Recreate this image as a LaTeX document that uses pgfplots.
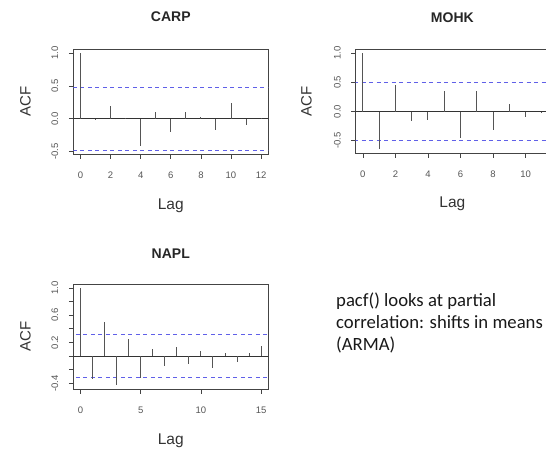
\documentclass[border=0pt]{standalone}
\usepackage{fontspec}
\setmainfont{Liberation Sans}
\newfontfamily\slidefont{Carlito}
\usepackage{pgfplots}
\pgfplotsset{compat=1.18}

\definecolor{boxgray}{HTML}{444444}
\definecolor{spikegray}{HTML}{555555}
\definecolor{ticktext}{HTML}{555555}
\definecolor{cliblue}{HTML}{6060E8}

\pgfplotsset{
  acf/.style={
    scale only axis,
    width=195pt, height=104.7pt,
    axis line style={boxgray, line width=0.8pt},
    tick pos=left, tick align=outside,
    major tick length=4.5pt,
    every tick/.style={boxgray, line width=0.7pt},
    ticklabel style={font=\fontsize{9.5}{10}\selectfont, text=ticktext},
    xticklabel style={anchor=north},
    xticklabel shift=10pt,
    yticklabel style={rotate=90, anchor=south},
    yticklabel shift=7pt,
    title style={font=\bfseries\fontsize{14}{16}\selectfont, text=black!85,
      at={(axis description cs:0.5,1.25)}, anchor=center},
    xlabel style={font=\fontsize{15.5}{17}\selectfont, text=black!80,
      at={(axis description cs:0.5,-0.49)}, anchor=center},
    ylabel style={font=\fontsize{15}{17}\selectfont, text=black!80,
      at={(axis description cs:-0.245,0.5)}, anchor=center},
    xlabel=Lag, ylabel=ACF,
    clip=true,
  },
  spike/.style={ycomb, spikegray, line width=0.9pt, mark=none},
  zero/.style={black!80, line width=0.8pt},
  band/.style={cliblue, line width=1pt, dash pattern=on 4pt off 3.5pt},
}

\begin{document}
\begin{tikzpicture}
\useasboundingbox (0pt,0pt) rectangle (546pt,448pt);
\clip (0pt,0pt) rectangle (546pt,448pt);

% CARP
\begin{axis}[acf, at={(73.3pt,294pt)}, anchor=south west,
  title=CARP,
  xmin=-0.48, xmax=12.48, ymin=-0.536, ymax=1.059,
  xtick={0,2,4,6,8,10,12},
  xticklabels={0,2,4,6,8,10,12},
  ytick={-0.5,0,0.5,1},
  yticklabels={-0.5,0.0,0.5,1.0}]
  \addplot[zero] coordinates {(-1,0) (13,0)};
  \addplot[band] coordinates {(-1,0.477) (13,0.477)};
  \addplot[band] coordinates {(-1,-0.477) (13,-0.477)};
  \addplot[spike] coordinates {
    (0,1.0) (1,-0.01) (2,0.19) (3,0.02) (4,-0.41) (5,0.10) (6,-0.20)
    (7,0.10) (8,0.03) (9,-0.17) (10,0.24) (11,-0.10) (12,0.01)};
\end{axis}

% MOHK (right edge runs past the slide)
\begin{axis}[acf, at={(355.7pt,294.7pt)}, anchor=south west,
  width=193.3pt, height=104pt,
  title=MOHK,
  ylabel style={at={(axis description cs:-0.255,0.5)}},
  xmin=-0.44, xmax=11.44, ymin=-0.716, ymax=1.066,
  xtick={0,2,4,6,8,10},
  xticklabels={0,2,4,6,8,10},
  ytick={-0.5,0,0.5,1},
  yticklabels={-0.5,0.0,0.5,1.0}]
  \addplot[zero] coordinates {(-1,0) (12,0)};
  \addplot[band] coordinates {(-1,0.5) (12,0.5)};
  \addplot[band] coordinates {(-1,-0.5) (12,-0.5)};
  \addplot[spike] coordinates {
    (0,1.0) (1,-0.65) (2,0.46) (3,-0.16) (4,-0.14) (5,0.35) (6,-0.46)
    (7,0.36) (8,-0.31) (9,0.13) (10,-0.10) (11,-0.02)};
\end{axis}

% NAPL
\begin{axis}[acf, at={(73.3pt,58.7pt)}, anchor=south west,
  height=105.3pt,
  title=NAPL,
  title style={at={(axis description cs:0.5,1.23)}},
  xlabel style={at={(axis description cs:0.5,-0.49)}},
  xmin=-0.6, xmax=15.6, ymin=-0.487, ymax=1.057,
  xtick={0,5,10,15},
  xticklabels={0,5,10,15},
  ytick={-0.4,-0.2,0,0.2,0.4,0.6,0.8,1},
  yticklabels={-0.4,,,0.2,,0.6,,1.0}]
  \addplot[zero] coordinates {(-1,0) (16,0)};
  \addplot[band] coordinates {(-1,0.31) (16,0.31)};
  \addplot[band] coordinates {(-1,-0.31) (16,-0.31)};
  \addplot[spike] coordinates {
    (0,1.0) (1,-0.33) (2,0.50) (3,-0.43) (4,0.25) (5,-0.32) (6,0.11)
    (7,-0.15) (8,0.13) (9,-0.12) (10,0.07) (11,-0.17) (12,0.05)
    (13,-0.09) (14,0.04) (15,0.15)};
\end{axis}

% slide note, one node per line
\begin{scope}[every node/.style={anchor=base west, inner sep=0pt,
    text=black!90, font=\slidefont\fontsize{18.7}{22}\selectfont}]
  \node at (336pt,141.3pt) {pacf() looks at partial};
  \node at (336pt,119.6pt) {correlation: shifts in means};
  \node at (336pt,98pt) {(ARMA)};
\end{scope}
\end{tikzpicture}
\end{document}
